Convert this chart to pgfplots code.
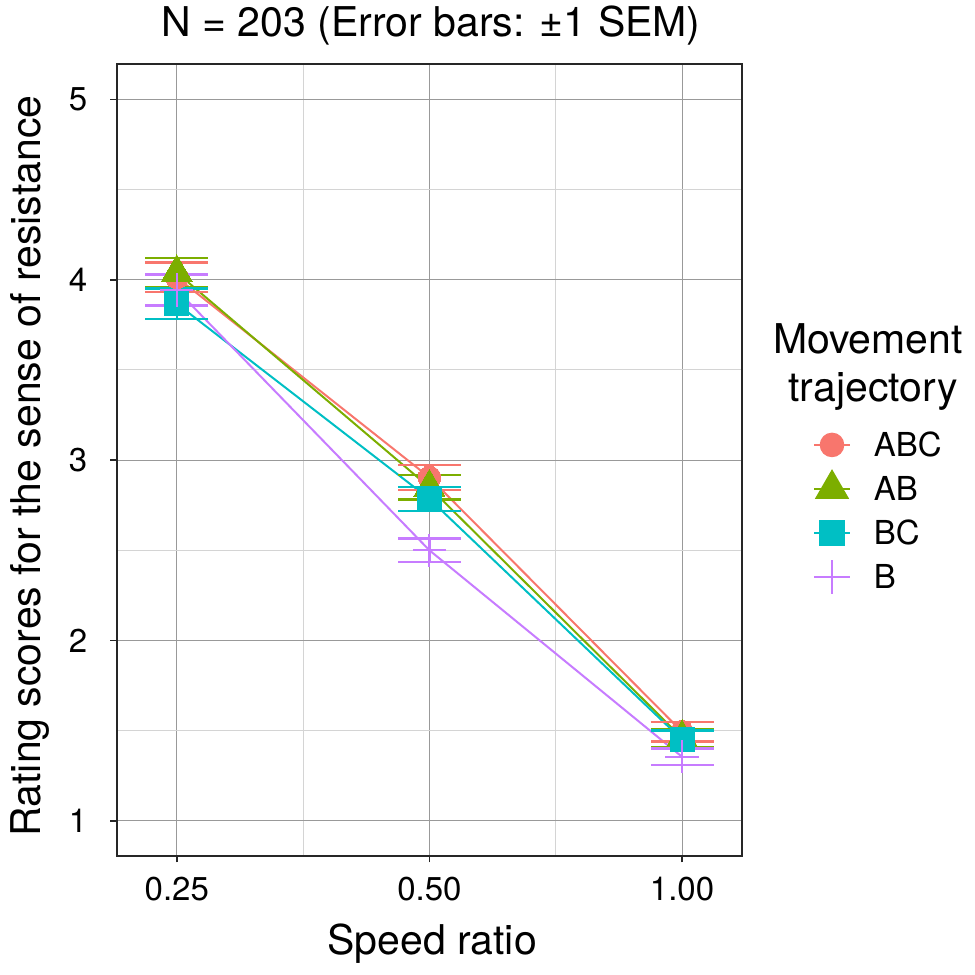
\documentclass[border=0pt]{standalone}
\usepackage{pgfplots}
\pgfplotsset{compat=1.18}
\usepackage{fontspec}
\setmainfont{TeX Gyre Heros}
\definecolor{cABC}{HTML}{F8766D}
\definecolor{cAB}{HTML}{7CAE00}
\definecolor{cBC}{HTML}{00BFC4}
\definecolor{cB}{HTML}{C77CFF}
\begin{document}
\begin{tikzpicture}
\useasboundingbox (0,0) rectangle (487.5pt,487.5pt);
\begin{axis}[
  at={(58.4pt,59.6pt)}, anchor=south west,
  scale only axis, width=312.6pt, height=395.9pt,
  xmin=-2.2375, xmax=0.2375, ymin=0.806, ymax=5.196,
  xtick={-2,-1,0}, xticklabels={0.25,0.50,1.00},
  minor xtick={-1.5,-0.5},
  ytick={1,2,3,4,5}, minor ytick={1.5,2.5,3.5,4.5},
  grid=both,
  major grid style={draw=black!40, line width=0.5pt},
  minor grid style={draw=black!17, line width=0.5pt},
  axis line style={draw=black!85, line width=1pt},
  tick style={draw=black!85, line width=0.8pt},
  tick align=outside, major tick length=3.3pt, minor tick length=0pt,
  xtick pos=bottom, ytick pos=left,
  /pgf/number format/assume math mode=true,
  ticklabel style={font=\fontsize{16.5}{18}\selectfont},
  xticklabel style={inner sep=0pt, anchor=north, yshift=-7.2pt},
  yticklabel style={inner sep=0pt, anchor=east, xshift=-11.3pt},
  every axis title shift=0pt,
  title={N = 203 (Error bars: ±1 SEM)},
  title style={at={(axis description cs:0.5026,1.03461)}, anchor=base, inner sep=0pt, font=\fontsize{20.5}{24}\selectfont},
  xlabel={Speed ratio},
  xlabel style={at={(axis description cs:0.5042,-0.12528)}, anchor=base, inner sep=0pt, font=\fontsize{20.5}{24}\selectfont},
  ylabel={Rating scores for the sense of resistance},
  ylabel style={at={(axis description cs:-0.12284,0.4923)}, anchor=base, inner sep=0pt, font=\fontsize{20.5}{24}\selectfont},
  legend image code/.code={\draw[mark repeat=2, mark phase=2, #1] plot coordinates {(0pt,0pt)(9pt,0pt)(18pt,0pt)};},
  legend cell align=left,
  legend style={at={(1.1131,0.5472)}, anchor=north west, draw=none, fill=none,
    inner sep=0pt, row sep=0pt, font=\fontsize{16.5}{18}\selectfont,
    nodes={inner sep=0pt, text height=16.95pt, text depth=5.05pt},
    /tikz/every odd column/.append style={column sep=11.5pt}},
]
% connecting lines
\addplot[cABC, line width=1pt, forget plot] coordinates {(-2,4.013)(-1,2.904)(0,1.494)};
\addplot[cAB, line width=1pt, forget plot] coordinates {(-2,4.039)(-1,2.849)(0,1.460)};
\addplot[cBC, line width=1pt, forget plot] coordinates {(-2,3.867)(-1,2.785)(0,1.450)};
\addplot[cB, line width=1pt, forget plot] coordinates {(-2,3.943)(-1,2.500)(0,1.355)};
% points
\addplot[cABC, only marks, forget plot, mark=*, mark size=5.7pt, mark options={draw=cABC, line width=0pt, fill=cABC}] coordinates {(-2,4.013)(-1,2.904)(0,1.494)};
\addplot[cAB, only marks, forget plot, mark=triangle*, mark size=9pt, mark options={draw=cAB, line width=0pt, fill=cAB}] coordinates {(-2,4.039)(-1,2.849)(0,1.460)};
\addplot[cBC, only marks, forget plot, mark=square*, mark size=6pt, mark options={draw=cBC, line width=0pt, fill=cBC}] coordinates {(-2,3.867)(-1,2.785)(0,1.450)};
\addplot[cB, only marks, forget plot, mark=+, mark size=8.3pt, mark options={draw=cB, line width=1pt}] coordinates {(-2,3.943)(-1,2.500)(0,1.355)};
% error bars
\addplot[draw=none, no marks, forget plot, error bars/.cd, y dir=both, y explicit,
  error bar style={draw=cABC, line width=1.15pt},
  error mark options={rotate=90, draw=cABC, line width=1.15pt, mark size=15.75pt}]
  coordinates {(-2,4.013) +- (0,0.083) (-1,2.904) +- (0,0.068) (0,1.494) +- (0,0.054)};
\addplot[draw=none, no marks, forget plot, error bars/.cd, y dir=both, y explicit,
  error bar style={draw=cAB, line width=1.15pt},
  error mark options={rotate=90, draw=cAB, line width=1.15pt, mark size=15.75pt}]
  coordinates {(-2,4.039) +- (0,0.080) (-1,2.849) +- (0,0.067) (0,1.460) +- (0,0.050)};
\addplot[draw=none, no marks, forget plot, error bars/.cd, y dir=both, y explicit,
  error bar style={draw=cBC, line width=1.15pt},
  error mark options={rotate=90, draw=cBC, line width=1.15pt, mark size=15.75pt}]
  coordinates {(-2,3.867) +- (0,0.085) (-1,2.785) +- (0,0.067) (0,1.450) +- (0,0.050)};
\addplot[draw=none, no marks, forget plot, error bars/.cd, y dir=both, y explicit,
  error bar style={draw=cB, line width=1.15pt},
  error mark options={rotate=90, draw=cB, line width=1.15pt, mark size=15.75pt}]
  coordinates {(-2,3.943) +- (0,0.086) (-1,2.500) +- (0,0.065) (0,1.355) +- (0,0.046)};
% legend
\addlegendimage{cABC, line width=0.9pt, mark=*, mark size=5.7pt, mark options={draw=none, fill=cABC}}
\addlegendentry{ABC}
\addlegendimage{cAB, line width=0.9pt, mark=triangle*, mark size=9pt, mark options={draw=none, fill=cAB}}
\addlegendentry{AB}
\addlegendimage{cBC, line width=0.9pt, mark=square*, mark size=6pt, mark options={draw=none, fill=cBC}}
\addlegendentry{BC}
\addlegendimage{cB, line width=0.9pt, mark=+, mark size=8.3pt, mark options={line width=0.9pt}}
\addlegendentry{B}
\end{axis}
\node[anchor=base, inner sep=0pt, font=\fontsize{20.5}{24}\selectfont] at (434pt,310.5pt) {Movement};
\node[anchor=base, inner sep=0pt, font=\fontsize{20.5}{24}\selectfont] at (436.5pt,286.5pt) {trajectory};
\end{tikzpicture}
\end{document}
